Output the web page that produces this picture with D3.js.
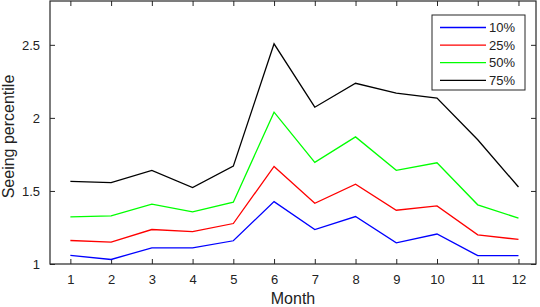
<!DOCTYPE html>
<html>
<head>
<meta charset="utf-8">
<script src="https://cdn.jsdelivr.net/npm/d3@7"></script>
<style>
  body { margin: 0; background: #fff; }
  svg { display: block; font-family: "Liberation Sans", Arial, sans-serif; }
</style>
</head>
<body>
<div id="chart"></div>
<script>
// Data
const months = [1, 2, 3, 4, 5, 6, 7, 8, 9, 10, 11, 12];
const p10 = [1.059, 1.031, 1.111, 1.111, 1.159, 1.427, 1.236, 1.325, 1.145, 1.205, 1.057, 1.057];
const p25 = [1.161, 1.150, 1.236, 1.222, 1.277, 1.668, 1.416, 1.546, 1.368, 1.398, 1.200, 1.168];
const p50 = [1.323, 1.330, 1.410, 1.357, 1.423, 2.039, 1.696, 1.870, 1.641, 1.693, 1.405, 1.314];
const p75 = [1.566, 1.557, 1.641, 1.523, 1.670, 2.507, 2.073, 2.237, 2.170, 2.136, 1.850, 1.527];
const seriesNames = ["10%", "25%", "50%", "75%"];
const seriesColors = ["#0000ff", "#ff0000", "#00ff00", "#000000"];
const yTicks = [1, 1.5, 2, 2.5];

const series = [p10, p25, p50, p75].map((vals, i) => ({
  name: seriesNames[i],
  color: seriesColors[i],
  values: vals.map((v, j) => ({ m: months[j], v: v }))
}));

const W = 540, H = 307;
const margin = { top: 1, right: 4, bottom: 43, left: 50 };
const width = W - margin.left - margin.right,
      height = H - margin.top - margin.bottom;

const svg = d3.select("#chart")
  .append("svg")
  .attr("width", W)
  .attr("height", H)
  .append("g")
  .attr("transform", `translate(${margin.left},${margin.top})`);

const x = d3.scaleLinear().domain([0.5, 12.43]).range([0, width]);
const y = d3.scaleLinear().domain([1, 2.8]).range([height, 0]);

const axisColor = "#262626";
const tickLen = 5;

// axes with inward ticks (bottom/left labelled, top/right plain)
const styleAxis = g => {
  g.select(".domain").remove();
  g.selectAll(".tick line").attr("stroke", axisColor).attr("stroke-width", 1);
  g.selectAll(".tick text").attr("fill", "#222").style("font-size", "13px");
};

svg.append("g")
  .attr("transform", `translate(0,${height})`)
  .call(d3.axisBottom(x).tickValues(months).tickSize(-tickLen).tickPadding(11).tickFormat(d3.format("d")))
  .call(styleAxis);

svg.append("g")
  .call(d3.axisTop(x).tickValues(months).tickSize(-tickLen).tickFormat(""))
  .call(styleAxis);

svg.append("g")
  .call(d3.axisLeft(y).tickValues(yTicks).tickSize(-tickLen).tickPadding(10).tickFormat(d3.format("")))
  .call(styleAxis);

svg.append("g")
  .attr("transform", `translate(${width},0)`)
  .call(d3.axisRight(y).tickValues(yTicks).tickSize(-tickLen).tickFormat(""))
  .call(styleAxis);

// lines
const line = d3.line().x(d => x(d.m)).y(d => y(d.v));
svg.selectAll("path.series")
  .data(series)
  .enter()
  .append("path")
  .attr("class", "series")
  .attr("d", d => line(d.values))
  .attr("fill", "none")
  .attr("stroke", d => d.color)
  .attr("stroke-width", 1.3);

// box
svg.append("rect")
  .attr("width", width)
  .attr("height", height)
  .attr("fill", "none")
  .attr("stroke", axisColor)
  .attr("stroke-width", 1.2);

// axis titles
svg.append("text")
  .attr("x", width / 2)
  .attr("y", height + 40)
  .attr("text-anchor", "middle")
  .attr("fill", "#222")
  .style("font-size", "16px")
  .text("Month");

svg.append("text")
  .attr("transform", `translate(${-36},${height / 2 + 4}) rotate(-90)`)
  .attr("text-anchor", "middle")
  .attr("fill", "#222")
  .style("font-size", "16px")
  .text("Seeing percentile");

// legend
const legend = svg.append("g").attr("transform", `translate(${382},${14})`);
legend.append("rect")
  .attr("width", 93)
  .attr("height", 75)
  .attr("fill", "#fff")
  .attr("stroke", axisColor)
  .attr("stroke-width", 1);

const row = legend.selectAll("g.row")
  .data(series)
  .enter()
  .append("g")
  .attr("class", "row")
  .attr("transform", (d, i) => `translate(0,${12.5 + i * 17.6})`);

row.append("line")
  .attr("x1", 8).attr("x2", 54)
  .attr("stroke", d => d.color)
  .attr("stroke-width", 1.3);

row.append("text")
  .attr("x", 57)
  .attr("dy", "0.35em")
  .attr("fill", "#222")
  .style("font-size", "13px")
  .text(d => d.name);
</script>
</body>
</html>
